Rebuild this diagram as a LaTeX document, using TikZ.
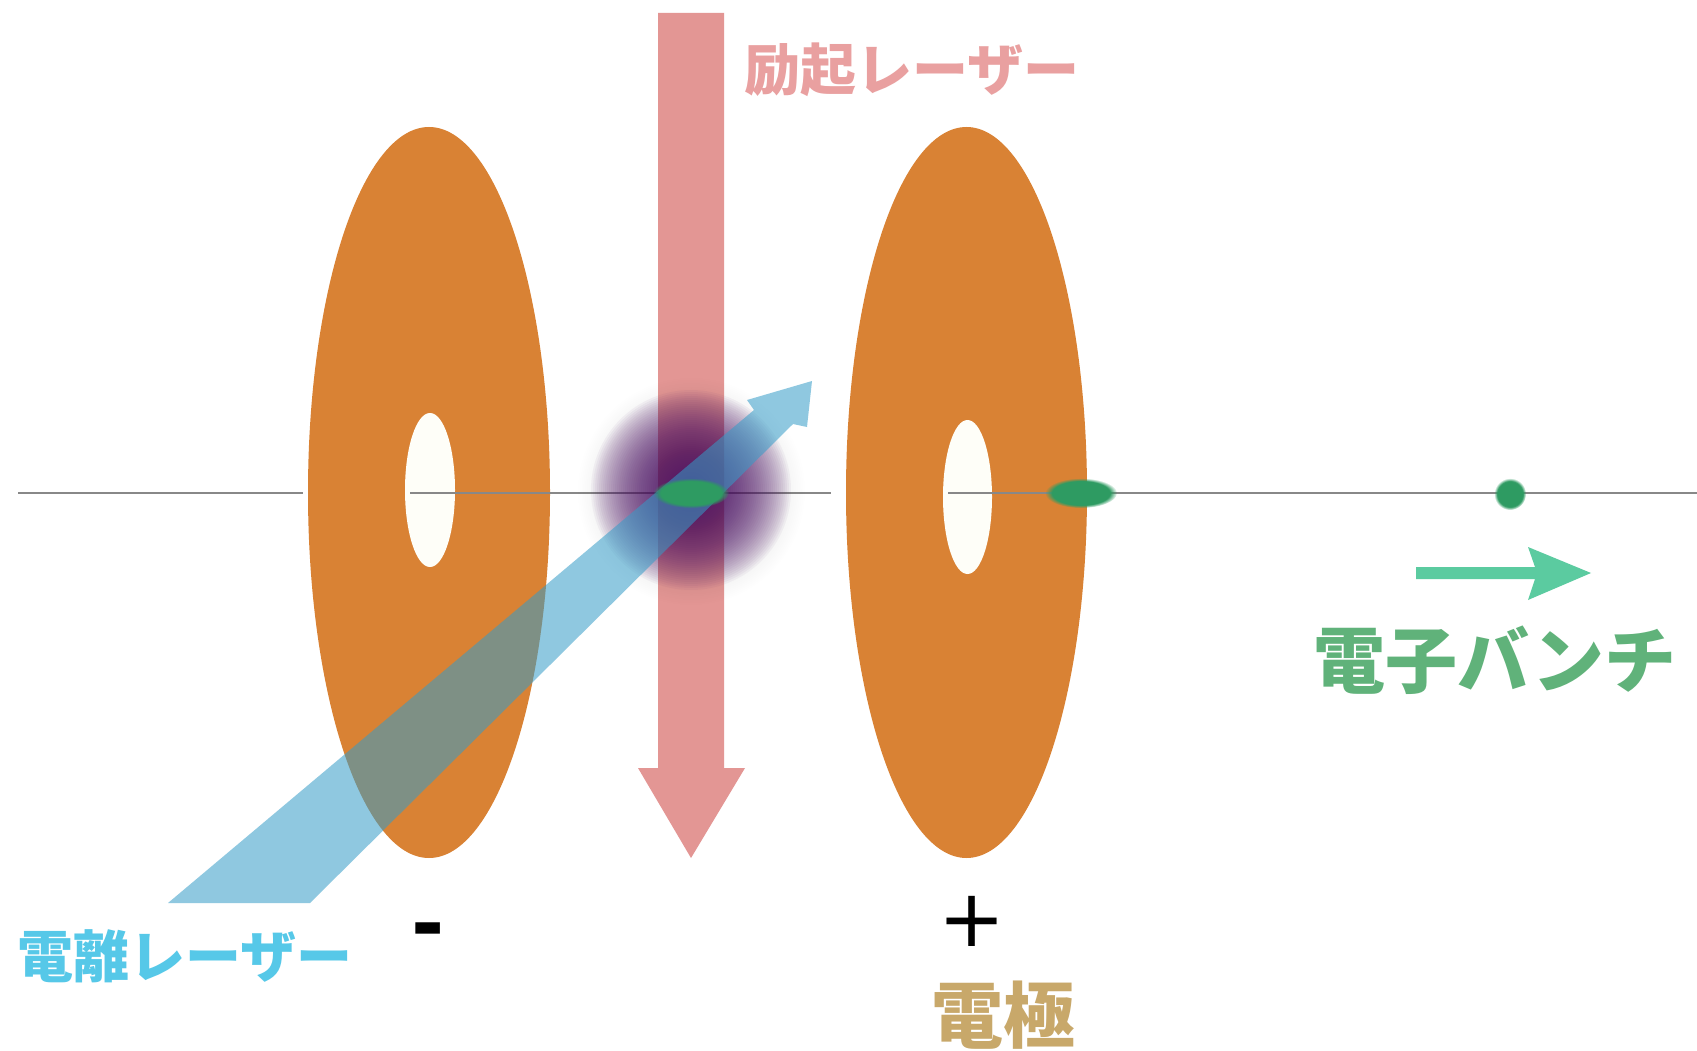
\documentclass[tikz,border=0pt]{standalone}
\usepackage{fontspec}
\newfontfamily\cjk{Noto Sans CJK JP}
\newfontfamily\signfont{DejaVu Sans}
\usetikzlibrary{fadings}

\definecolor{electrode}{HTML}{D98234}
\definecolor{holewhite}{HTML}{FEFEF8}
\definecolor{axisgray}{HTML}{888888}
\definecolor{pumppink}{HTML}{E39694}
\definecolor{pumptext}{HTML}{E9A0A0}
\definecolor{ionblue}{RGB}{52,156,200}
\definecolor{iontext}{HTML}{56C8E8}
\definecolor{glowpurple}{RGB}{75,15,100}
\definecolor{bunchgreen}{RGB}{46,155,98}
\definecolor{arrowgreen}{RGB}{91,203,160}
\definecolor{bunchtext}{RGB}{96,178,122}
\definecolor{electext}{RGB}{200,168,106}

\begin{document}
\begin{tikzpicture}[x=1pt,y=-1pt,
  captext/.style={inner sep=0pt, font=\cjk\bfseries},
  axis/.style={draw=axisgray, line width=2.8pt},
  softblob/.style={path fading=circle with fuzzy edge 20 percent},
]
\useasboundingbox (0,0) rectangle (1697,1051);
\fill[white] (0,0) rectangle (1697,1051);

% electrodes with their central apertures
\fill[electrode] (429,492.5) ellipse [x radius=121, y radius=365.5];
\fill[electrode] (966.5,492.5) ellipse [x radius=120.5, y radius=365.5];
\fill[holewhite] (430,490) ellipse [x radius=25, y radius=77];
\fill[holewhite] (967.5,497) ellipse [x radius=24.5, y radius=77];

% beam axis
\draw[axis] (18,493) -- (303,493);
\draw[axis] (410,493) -- (831,493);
\draw[axis] (948,493) -- (1697,493);

% excitation laser (downward arrow)
\fill[pumppink] (658,13) -- (724,13) -- (724,768) -- (745,768) -- (691,858)
  -- (638,768) -- (658,768) -- cycle;

% excited atom cloud: faint halo, then many stacked translucent discs
\fill[black, opacity=0.05, softblob] (691,491) circle (114);
\foreach \r in {2,4,...,100}
  \fill[glowpurple, opacity=0.045] (691,490) circle (\r);

% ionisation laser (diagonal arrow)
\fill[ionblue, fill opacity=0.55] (168,903) -- (310,903) -- (793,424) -- (807,427)
  -- (812,381) -- (747,400) -- (754,410) -- cycle;

% electron bunches
\fill[bunchgreen, softblob] (691,493) ellipse [x radius=38, y radius=15];
\fill[bunchgreen, softblob] (1081,493) ellipse [x radius=36, y radius=15];
\fill[bunchgreen, softblob] (1510,494) circle (16);

% direction of the bunch
\fill[arrowgreen] (1416,567) -- (1535,567) -- (1528,547) -- (1591,573)
  -- (1528,600) -- (1535,579) -- (1416,579) -- cycle;

% labels
\node[captext, text=pumptext, font=\cjk\bfseries\fontsize{56}{60}\selectfont] (pumplabel) at (912,70) {励起レーザー};
\node[captext, text=iontext, font=\cjk\bfseries\fontsize{56}{60}\selectfont] (ionlabel) at (185,956) {電離レーザー};
\node[captext, text=bunchtext, font=\cjk\bfseries\fontsize{72}{76}\selectfont] (bunchlabel) at (1495,660) {電子バンチ};
\node[captext, text=electext, font=\cjk\bfseries\fontsize{72}{76}\selectfont] (eleclabel) at (1003,1015) {電極};
\node[inner sep=0pt, font=\signfont\bfseries\fontsize{80}{84}\selectfont] (minus) at (428,937) {-};
\node[inner sep=0pt, font=\signfont\fontsize{80}{84}\selectfont] (plus) at (972,921) {+};
\end{tikzpicture}
\end{document}
